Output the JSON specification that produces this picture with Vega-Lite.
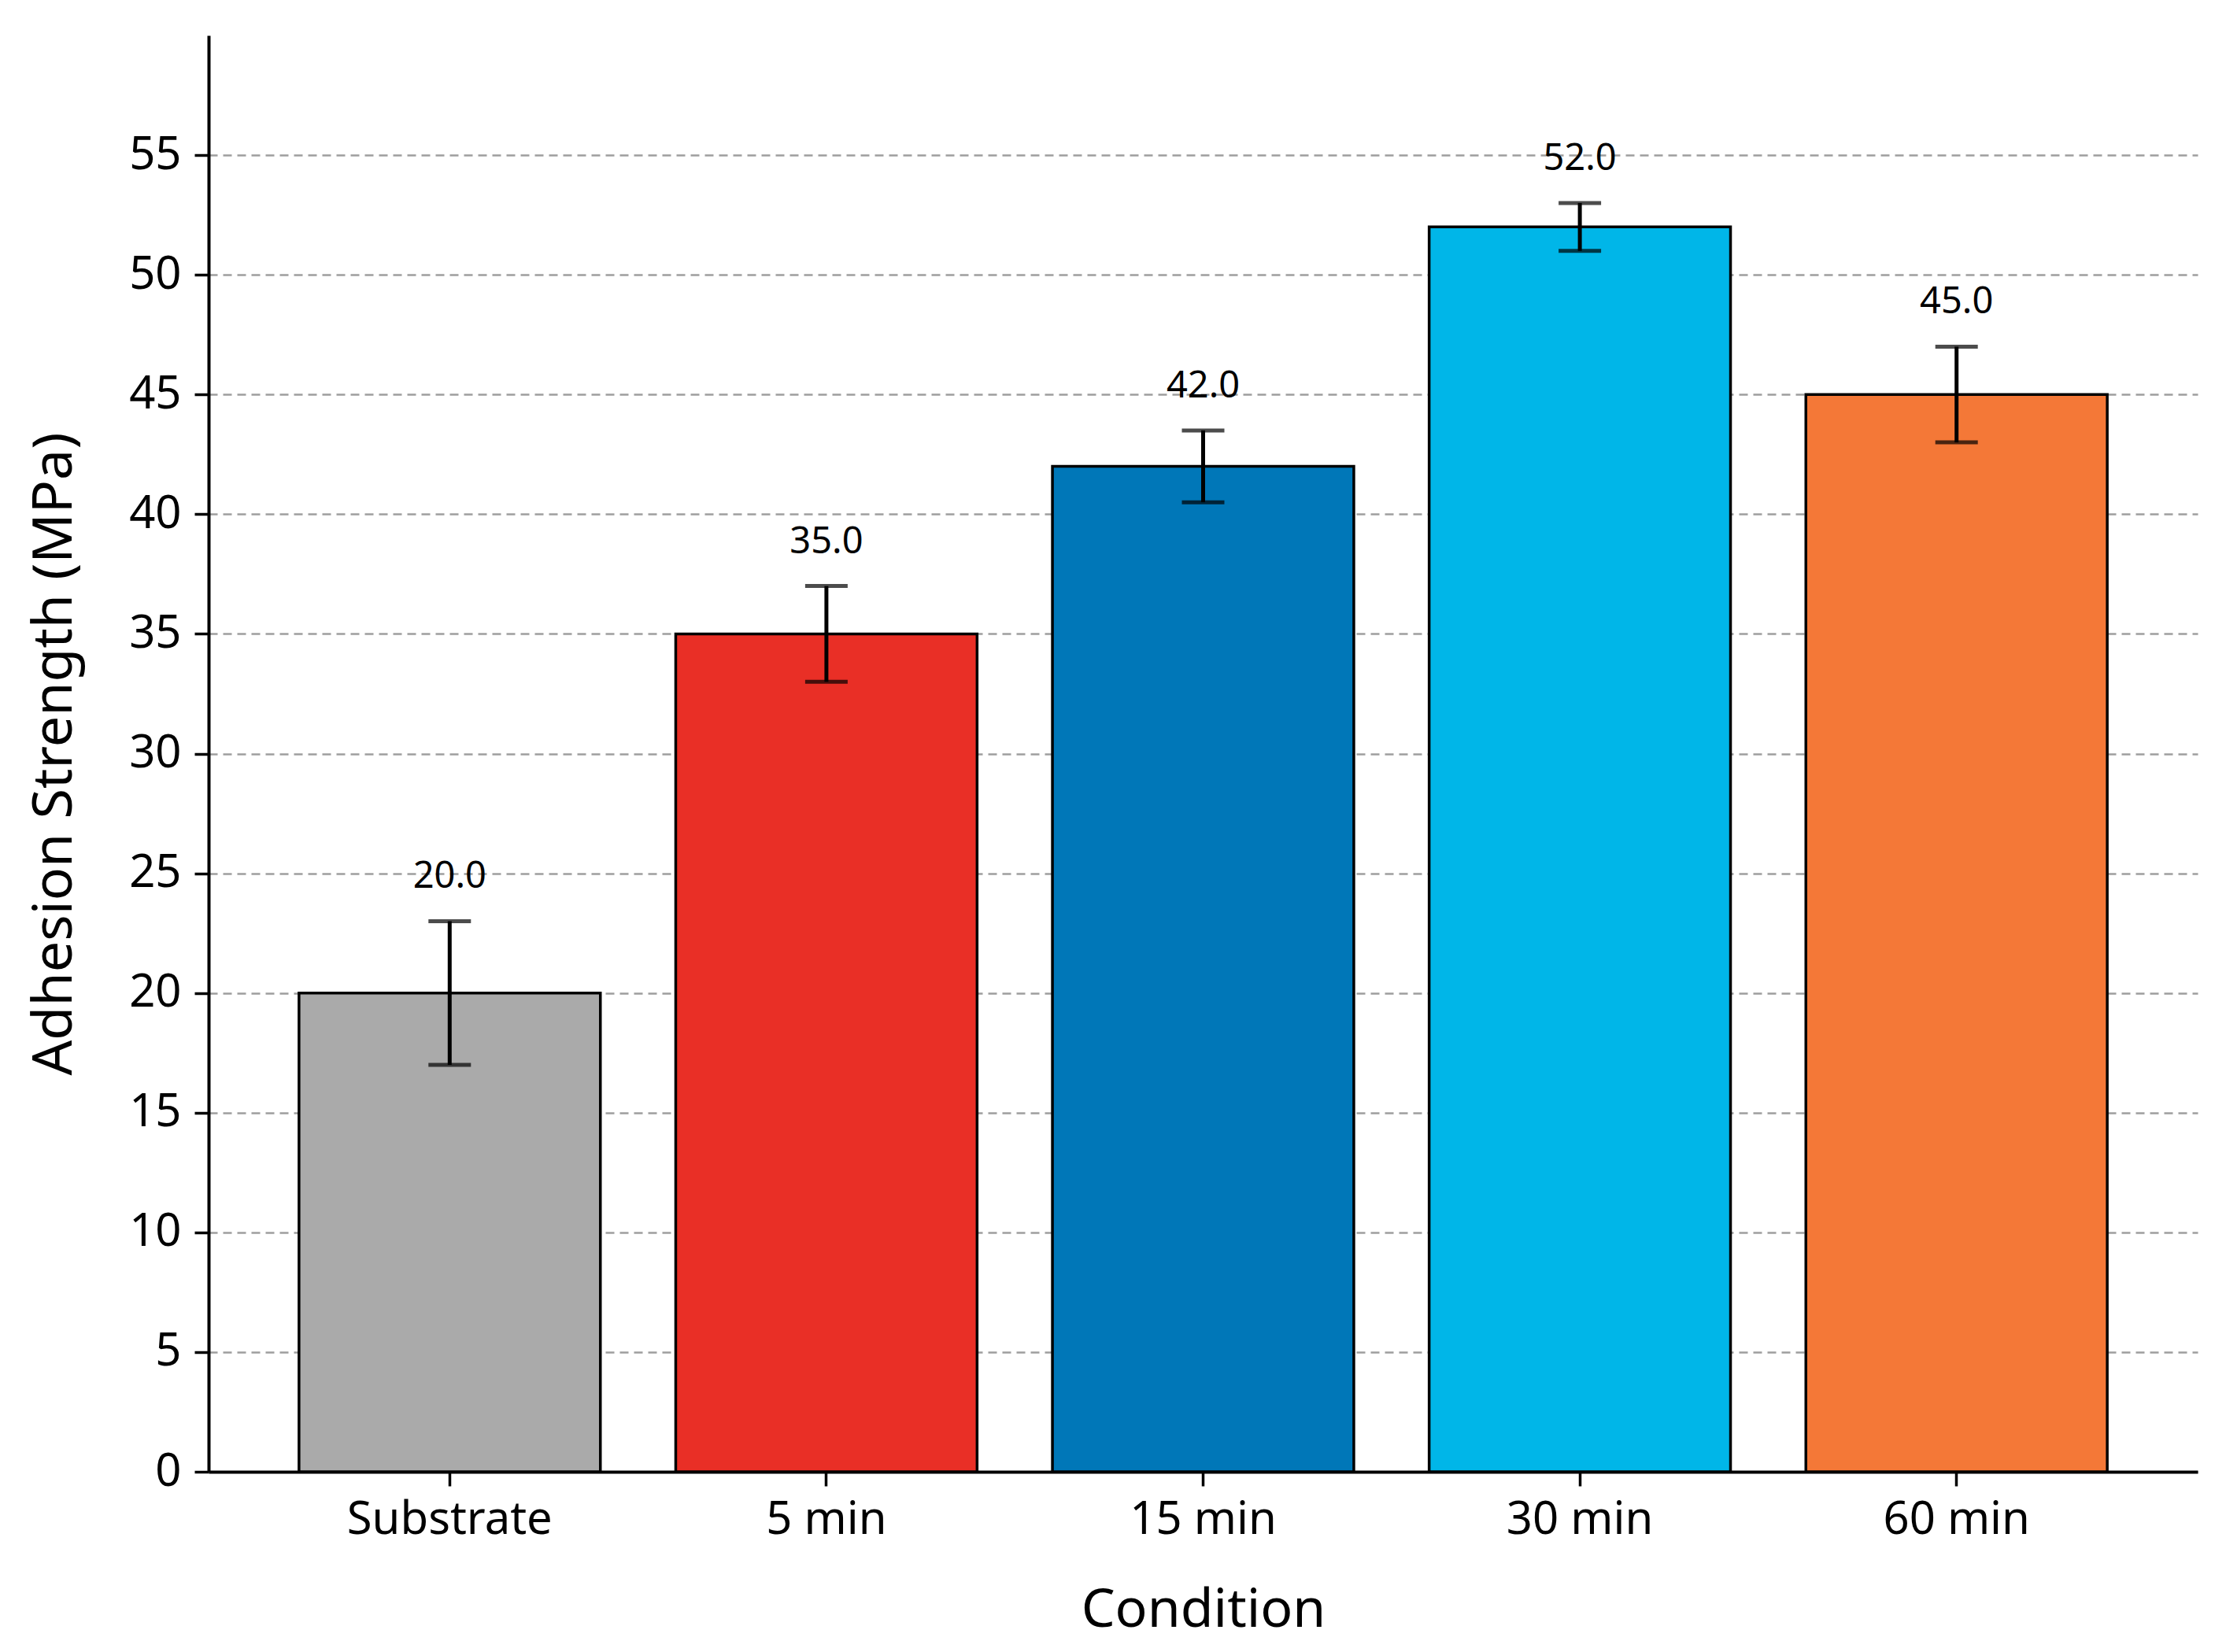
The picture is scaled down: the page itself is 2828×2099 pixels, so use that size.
{
  "$schema": "https://vega.github.io/schema/vega-lite/v6.json",
  "autosize": {"type": "none"},
  "width": 2527,
  "height": 1825,
  "padding": {"left": 265, "top": 45, "right": 36, "bottom": 229},
  "background": "white",
  "config": {
    "view": {"stroke": null},
    "font": "Noto Sans",
    "axis": {"labelFont": "Noto Sans", "titleFont": "Noto Sans", "labelColor": "black", "titleColor": "black", "titleFontWeight": "normal"}
  },
  "data": {
    "values": [
      {"condition": "Substrate", "mean": 20.0, "lo": 17.0, "hi": 23.0, "label": "20.0"},
      {"condition": "5 min", "mean": 35.0, "lo": 33.0, "hi": 37.0, "label": "35.0"},
      {"condition": "15 min", "mean": 42.0, "lo": 40.5, "hi": 43.5, "label": "42.0"},
      {"condition": "30 min", "mean": 52.0, "lo": 51.0, "hi": 53.0, "label": "52.0"},
      {"condition": "60 min", "mean": 45.0, "lo": 43.0, "hi": 47.0, "label": "45.0"}
    ]
  },
  "encoding": {
    "x": {
      "field": "condition",
      "type": "nominal",
      "sort": null,
      "scale": {"paddingInner": 0.2, "paddingOuter": 0.24},
      "axis": {
        "title": "Condition",
        "titleFontSize": 68,
        "titlePadding": 52,
        "labelFontSize": 58,
        "labelAngle": 0,
        "labelLimit": 0,
        "labelPadding": 14,
        "tickSize": 18,
        "tickWidth": 3.5,
        "tickColor": "black",
        "domainColor": "black",
        "domainWidth": 4,
        "grid": false
      }
    }
  },
  "layer": [
    {
      "mark": {"type": "bar", "stroke": "black", "strokeWidth": 3.5},
      "encoding": {
        "y": {
          "field": "mean",
          "type": "quantitative",
          "scale": {"domain": [0, 60], "nice": false},
          "axis": {
            "title": "Adhesion Strength (MPa)",
            "titleFontSize": 70,
            "titlePadding": 58,
            "labelFontSize": 58,
            "labelPadding": 17,
            "values": [0, 5, 10, 15, 20, 25, 30, 35, 40, 45, 50, 55],
            "tickSize": 18,
            "tickWidth": 3.5,
            "tickColor": "black",
            "domainColor": "black",
            "domainWidth": 4,
            "grid": true,
            "gridColor": "#9e9e9e",
            "gridWidth": 2.5,
            "gridDash": [11, 7]
          }
        },
        "color": {
          "field": "condition",
          "type": "nominal",
          "legend": null,
          "scale": {
            "domain": ["Substrate", "5 min", "15 min", "30 min", "60 min"],
            "range": ["#aaaaaa", "#e92f26", "#0077b8", "#00b6e8", "#f47837"]
          }
        }
      }
    },
    {
      "mark": {"type": "rule", "color": "black", "strokeWidth": 5},
      "encoding": {
        "y": {"field": "lo", "type": "quantitative"},
        "y2": {"field": "hi"}
      }
    },
    {
      "mark": {"type": "tick", "color": "black", "size": 54, "thickness": 5},
      "encoding": {
        "y": {"field": "lo", "type": "quantitative"}
      }
    },
    {
      "mark": {"type": "tick", "color": "black", "size": 54, "thickness": 5},
      "encoding": {
        "y": {"field": "hi", "type": "quantitative"}
      }
    },
    {
      "mark": {"type": "text", "fontSize": 47, "baseline": "alphabetic", "dy": -42, "color": "black"},
      "encoding": {
        "y": {"field": "hi", "type": "quantitative"},
        "text": {"field": "label"}
      }
    }
  ]
}
